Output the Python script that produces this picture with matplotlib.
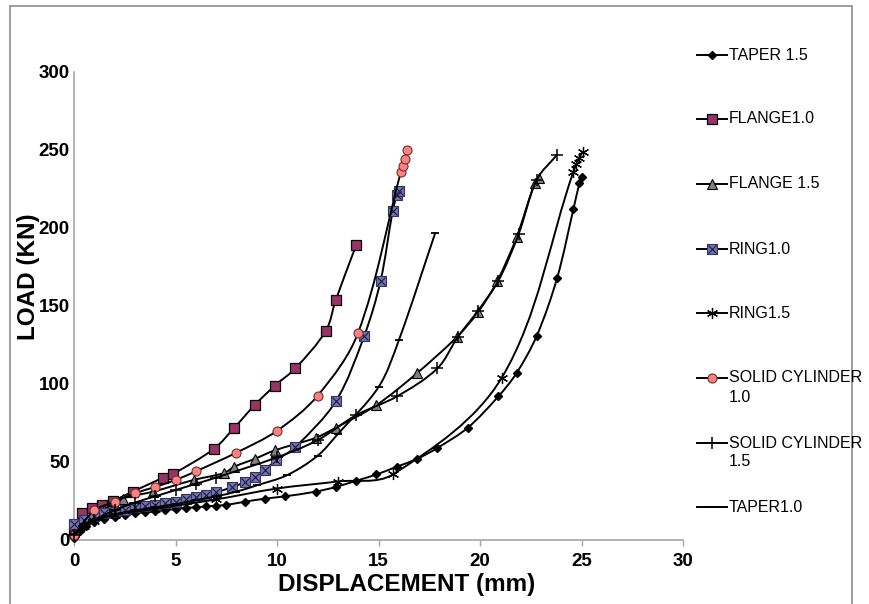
import numpy as np
import matplotlib
matplotlib.use('Agg')
import matplotlib.pyplot as plt
from matplotlib.path import Path
from matplotlib.patches import PathPatch, Rectangle
from matplotlib.lines import Line2D

plt.rcParams['font.family'] = 'Liberation Sans'

# Data (displacement mm, load kN)
taper15_x = [0, 0.3, 0.6, 1.0, 1.5, 2.0, 2.5, 3.0, 3.5, 4.0, 4.5, 5.0, 5.5, 6.0, 6.5, 7.0, 7.5,
             8.4, 9.4, 10.4, 11.9, 12.9, 13.9, 14.9, 15.9, 16.9, 17.9, 19.4, 20.9, 21.8, 22.8,
             23.8, 24.6, 24.9, 25.0]
taper15_y = [1, 6, 9, 11.5, 13.5, 15, 16, 17, 17.8, 18.5, 19.2, 19.8, 20.5, 21, 21.5, 22, 22.5,
             24.5, 26.5, 28, 31, 34, 38, 42, 47, 52, 59, 72, 92, 107, 131,
             168, 212, 229, 233]

flange10_x = [0, 0.4, 0.9, 1.4, 1.9, 2.9, 4.4, 4.9, 6.9, 7.9, 8.9, 9.9, 10.9, 12.4, 12.9, 13.9]
flange10_y = [5, 17, 20.5, 22.5, 25, 31, 40, 42.5, 58.5, 72, 86.5, 99, 110, 134, 154, 189]

flange15_x = [0, 0.5, 1, 1.5, 2.4, 3.9, 5.9, 7.4, 7.9, 8.9, 9.9, 11.9, 12.9, 14.9, 16.9,
              18.85, 19.9, 20.85, 21.8, 22.7, 22.9]
flange15_y = [6, 12, 16, 19.5, 26.5, 31, 38.5, 43, 47, 52, 57.5, 65.5, 72, 86.5, 107,
              130, 146, 166, 194, 229, 232]

ring10_x = [0, 0.5, 1, 1.5, 2, 2.5, 3, 3.5, 4, 4.5, 5, 5.5, 6, 6.5, 7, 7.8, 8.4, 8.9, 9.4,
            9.95, 10.9, 12.9, 14.3, 15.1, 15.7, 15.9, 16.0]
ring10_y = [10, 13, 15.5, 17, 18, 19.5, 21, 22, 22.5, 23.5, 24.5, 26, 27.5, 29, 30.5, 34, 37,
            40.5, 45, 51, 59.5, 89, 131, 166, 211, 221, 224]

ring15_x = [0, 0.5, 1, 2, 4, 7, 10, 13, 15.7, 21.07, 24.6, 24.75, 24.9, 25.05]
ring15_y = [4, 9, 12.5, 16, 20, 26, 33, 37.5, 42, 104, 236, 241, 245, 249]

solid10_x = [0, 1, 2, 3, 4, 5, 6, 8, 10, 12, 14, 16.1, 16.2, 16.3, 16.4]
solid10_y = [3, 19, 24.5, 30, 34, 38.5, 44, 56, 70, 92.5, 133, 236, 240, 244, 250]

solid15_x = [0, 0.5, 1, 2, 3, 4, 5, 6, 7, 10, 12, 13.9, 15.9, 17.9, 18.9, 19.9, 20.9, 21.9,
             22.8, 23.8]
solid15_y = [3, 9, 13, 19, 24, 28, 32, 36, 40, 53, 64, 80, 92, 110, 130, 147, 166, 196,
             231, 247]

taper10_x = [0, 0.5, 1, 2, 3, 4, 5, 6, 7, 8, 9, 10.5, 12, 13, 15, 16, 17.8]
taper10_y = [4, 10, 13, 16.5, 19, 21, 23, 25.5, 28, 31, 35, 41.6, 54, 68, 98, 128, 197]

labels = ['TAPER 1.5', 'FLANGE1.0', 'FLANGE 1.5', 'RING1.0', 'RING1.5',
          'SOLID CYLINDER\n1.0', 'SOLID CYLINDER\n1.5', 'TAPER1.0']

x_ticks = [0, 5, 10, 15, 20, 25, 30]
y_ticks = [0, 50, 100, 150, 200, 250, 300]

STYLES = [
    dict(marker='D', ms=4.5, mfc='black', mec='black'),
    dict(marker='s', ms=7, mfc='#993366', mec='black', mew=0.9),
    dict(marker='^', ms=6.5, mfc='#808080', mec='black', mew=0.8),
    dict(marker='s', ms=6.5, mfc='#7373b5', mec='#333366', mew=0.8),
    dict(marker=(6, 2, 0), ms=8, mfc='black', mec='black', mew=0.9),
    dict(marker='o', ms=6.5, mfc='#ff8080', mec='#663333', mew=0.8),
    dict(marker='+', ms=8, mfc='black', mec='black', mew=1.1),
    dict(marker='_', ms=6, mfc='black', mec='black', mew=1.3),
]

SX, SY = 609 / 30.0, 468 / 300.0   # px per unit, used only to shape the smoothing


def smooth_path(x, y):
    # Excel-like smoothed line through the points (bezier, no overshoot)
    p = np.column_stack([np.asarray(x, float) * SX, np.asarray(y, float) * SY])
    n = len(p)
    verts = [p[0]]
    codes = [Path.MOVETO]
    for i in range(n - 1):
        a, b = p[i], p[i + 1]
        L = np.hypot(*(b - a))
        ta = (p[i + 1] - p[i - 1]) if i > 0 else (b - a)
        tb = (p[i + 2] - p[i]) if i + 2 < n else (b - a)
        ta = ta / max(np.hypot(*ta), 1e-9) * L / 3
        tb = tb / max(np.hypot(*tb), 1e-9) * L / 3
        verts += [a + ta, b - tb, b]
        codes += [Path.CURVE4] * 3
    verts = np.array(verts) / [SX, SY]
    return Path(verts, codes)


fig = plt.figure(figsize=(8.69, 6.04), dpi=100)
ax = fig.add_axes([74 / 869, 64 / 604, 609 / 869, 468 / 604])
ax.set_xlim(0, 30)
ax.set_ylim(0, 300)

series = [(taper15_x, taper15_y), (flange10_x, flange10_y), (flange15_x, flange15_y),
          (ring10_x, ring10_y), (ring15_x, ring15_y), (solid10_x, solid10_y),
          (solid15_x, solid15_y), (taper10_x, taper10_y)]

for i, ((xs, ys), st) in enumerate(zip(series, STYLES)):
    z = 3 + i * 2
    ax.add_patch(PathPatch(smooth_path(xs, ys), fill=False, color='black', lw=1.4,
                           zorder=z, clip_on=False))
    ax.plot(xs, ys, ls='none', zorder=z + 1, clip_on=False, **st)
    if i == 3:
        ax.plot(xs, ys, ls='none', marker='x', ms=6, mec='#1a1a33', mew=0.8,
                zorder=z + 1, clip_on=False)

ax.set_xticks(x_ticks)
ax.set_yticks(y_ticks)
for lab in ax.get_xticklabels() + ax.get_yticklabels():
    lab.set_fontweight('bold')
    lab.set_fontsize(13.5)
ax.tick_params(axis='x', length=4, width=1, color='#a6a6a6', pad=5)
ax.tick_params(axis='y', length=0, pad=3)
for s in ['top', 'right']:
    ax.spines[s].set_visible(False)
for s in ['left', 'bottom']:
    ax.spines[s].set_color('#a6a6a6')
    ax.spines[s].set_linewidth(1.2)

ax.set_xlabel('DISPLACEMENT (mm)', fontsize=17.5, fontweight='bold')
ax.xaxis.set_label_coords((407 - 74) / 609, (540 - 573) / 468)
ax.set_ylabel('LOAD (KN)', fontsize=17.5, fontweight='bold')
ax.yaxis.set_label_coords((40 - 74) / 609, (540 - 277) / 468)

# legend, entries placed as in the original (marker on first text line)
leg_y = [55, 119, 184, 249, 313, 378, 443, 507]
for i, (lab, st, ypx) in enumerate(zip(labels, STYLES, leg_y)):
    yf = 1 - ypx / 604
    xs = [697 / 869, 712 / 869, 727 / 869]
    fig.add_artist(Line2D(xs, [yf] * 3, color='black', lw=1.4, markevery=[1],
                          transform=fig.transFigure, **st))
    if i == 3:
        fig.add_artist(Line2D([xs[1]], [yf], ls='none', marker='x', ms=6, mec='#1a1a33',
                              mew=0.8, transform=fig.transFigure))
    fig.text(729 / 869, yf, lab.split('\n')[0], fontsize=11.5, va='center', ha='left')
    if '\n' in lab:
        fig.text(729 / 869, yf - 19 / 604, lab.split('\n')[1], fontsize=11.5,
                 va='center', ha='left')

# chart area frame
fig.add_artist(Rectangle((10 / 869, -0.02), 842 / 869, 1.02 - 6 / 604, fill=False,
                         edgecolor='#8c8c8c', lw=1.2, transform=fig.transFigure))

fig.savefig('out.png', dpi=100, facecolor='white')
